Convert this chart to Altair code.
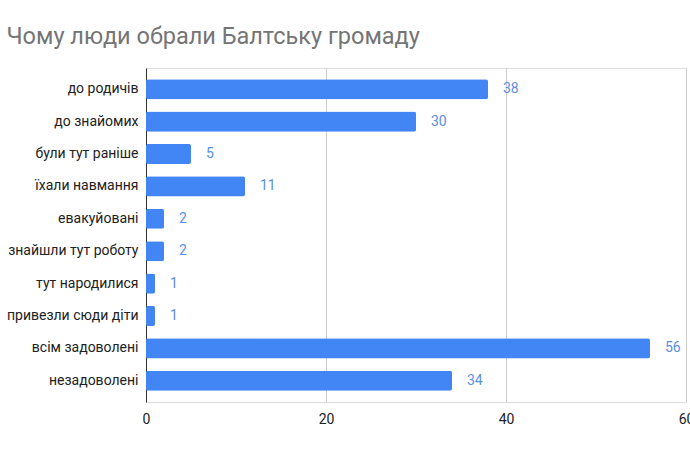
import altair as alt
import pandas as pd

categories = ["до родичів", "до знайомих", "були тут раніше", "їхали навмання", "евакуйовані",
              "знайшли тут роботу", "тут народилися", "привезли сюди діти", "всім задоволені", "незадоволені"]
values = [38, 30, 5, 11, 2, 2, 1, 1, 56, 34]

df = pd.DataFrame({"cat": categories, "val": values})

y = alt.Y("cat:N", sort=categories, title=None,
          scale=alt.Scale(paddingInner=0.38, paddingOuter=0.345),
          axis=alt.Axis(labelFont="Roboto", labelFontSize=14, labelColor="#222222",
                        labelPadding=8, ticks=False, domainColor="#333333", domainWidth=1))
x = alt.X("val:Q", title=None, scale=alt.Scale(domain=[0, 60], nice=False),
          axis=alt.Axis(values=[0, 20, 40, 60], labelFont="Roboto", labelFontSize=14,
                        labelColor="#222222", ticks=False, domain=False, grid=True,
                        gridColor="#cccccc", labelPadding=10, labelFlush=False))

bars = alt.Chart(df).mark_bar(color="#4285F4", cornerRadius=2).encode(x=x, y=y)
text = alt.Chart(df).mark_text(align="left", dx=15, font="Roboto", fontSize=14,
                               color="#5b8ee6").encode(
    x="val:Q", y=alt.Y("cat:N", sort=categories), text="val:Q")

chart = (bars + text).properties(
    width=540, height=334,
    title=alt.TitleParams("Чому люди обрали Балтську громаду", anchor="start", frame="bounds",
                          font="Roboto", fontSize=23.5, fontWeight="normal", color="#757575",
                          offset=20),
    autosize=alt.AutoSizeParams(type="none"),
    padding={"left": 146, "top": 68, "right": 4, "bottom": 48},
).configure_view(stroke=None).configure(background="white")

chart.save("out.html", embed_options={"renderer": "svg", "actions": False})
